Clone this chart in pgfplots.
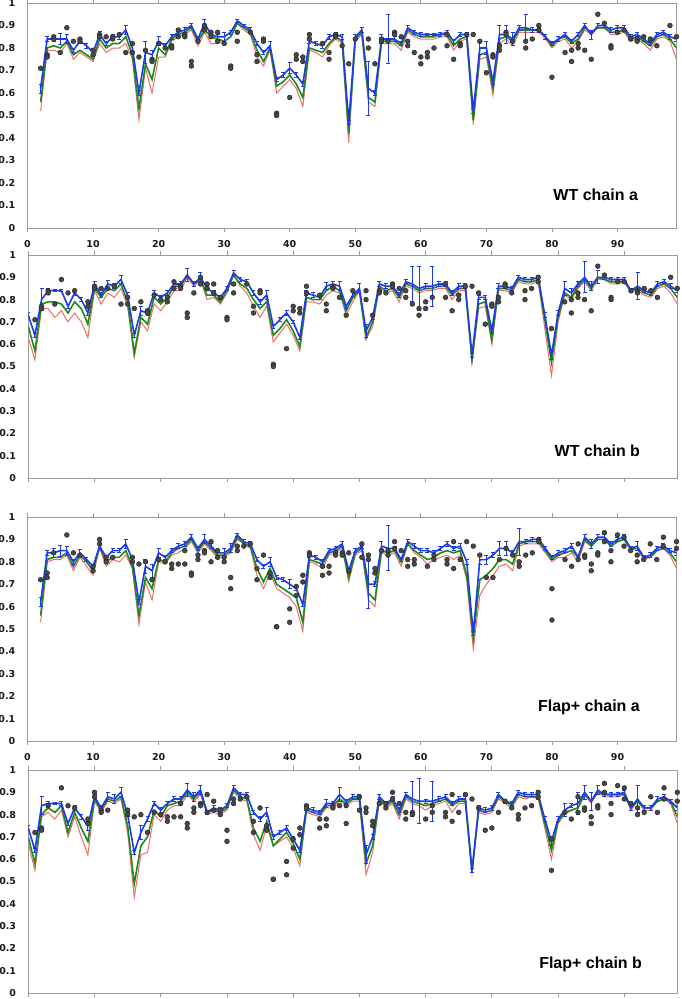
\documentclass[border=0pt]{standalone}
\usepackage{fontspec}
\setmainfont{Liberation Sans}
\newfontfamily\tickfont{DejaVu Sans}
\usepackage{pgfplots}
\usepackage{pgfplotstable}
\pgfplotsset{compat=1.18}
\definecolor{cred}{RGB}{232,112,104}
\definecolor{cgreen}{RGB}{28,138,28}
\definecolor{cblue}{RGB}{30,60,230}
\definecolor{cdot}{RGB}{72,72,72}
\definecolor{cax}{RGB}{155,155,155}

% x red green blue err
\pgfplotstableread{
x r g b e
2 0.52 0.56 0.62 0.02
3 0.79 0.80 0.84 0.01
4 0.79 0.81 0.84 0.01
5 0.78 0.80 0.84 0.025
6 0.82 0.83 0.84 0.02
7 0.75 0.77 0.79 0.01
8 0.78 0.79 0.83 0.01
9 0.76 0.77 0.81 0.01
10 0.74 0.75 0.78 0.01
11 0.82 0.84 0.86 0.015
12 0.78 0.80 0.82 0.01
13 0.80 0.82 0.85 0.01
14 0.80 0.82 0.85 0.01
15 0.82 0.85 0.88 0.02
16 0.75 0.77 0.80 0.01
17 0.48 0.53 0.60 0.01
18 0.71 0.73 0.78 0.05
19 0.60 0.66 0.77 0.02
20 0.76 0.80 0.83 0.02
21 0.76 0.77 0.81 0.01
22 0.83 0.84 0.85 0.01
23 0.85 0.86 0.87 0.01
24 0.86 0.87 0.88 0.01
25 0.88 0.89 0.90 0.01
26 0.81 0.83 0.84 0.01
27 0.87 0.88 0.91 0.015
28 0.82 0.85 0.86 0.01
29 0.82 0.84 0.85 0.01
30 0.83 0.83 0.85 0.02
31 0.85 0.85 0.87 0.01
32 0.91 0.91 0.92 0.005
33 0.88 0.89 0.90 0.005
34 0.86 0.87 0.88 0.01
35 0.76 0.79 0.82 0.01
36 0.72 0.74 0.78 0.01
37 0.79 0.80 0.81 0.02
38 0.60 0.63 0.66 0.01
39 0.63 0.65 0.68 0.01
40 0.66 0.68 0.71 0.025
41 0.62 0.64 0.68 0.01
42 0.54 0.58 0.64 0.01
43 0.79 0.80 0.83 0.01
44 0.78 0.79 0.82 0.01
45 0.76 0.78 0.81 0.01
46 0.81 0.82 0.85 0.01
47 0.84 0.85 0.86 0.01
48 0.82 0.83 0.85 0.01
49 0.38 0.42 0.47 0.01
50 0.83 0.84 0.85 0.01
51 0.86 0.87 0.88 0.01
52 0.56 0.58 0.62 0.12
53 0.54 0.56 0.60 0.01
54 0.82 0.83 0.84 0.02
55 0.82 0.83 0.84 0.11
56 0.82 0.83 0.84 0.01
57 0.79 0.81 0.82 0.01
58 0.87 0.88 0.89 0.01
59 0.85 0.86 0.87 0.01
60 0.84 0.85 0.86 0.01
61 0.84 0.85 0.86 0.005
62 0.84 0.85 0.86 0.005
63 0.85 0.86 0.86 0.01
64 0.85 0.86 0.87 0.01
65 0.79 0.81 0.83 0.01
66 0.83 0.84 0.86 0.01
67 0.84 0.85 0.86 0.01
68 0.46 0.48 0.52 0.01
69 0.75 0.77 0.80 0.03
70 0.76 0.78 0.80 0.03
71 0.59 0.62 0.65 0.01
72 0.82 0.84 0.86 0.04
73 0.84 0.85 0.86 0.04
74 0.81 0.83 0.84 0.03
75 0.87 0.88 0.89 0.01
76 0.87 0.88 0.89 0.06
77 0.87 0.88 0.88 0.01
78 0.87 0.88 0.88 0.01
79 0.84 0.85 0.85 0.01
80 0.80 0.81 0.82 0.01
81 0.83 0.84 0.84 0.01
82 0.84 0.85 0.86 0.01
83 0.80 0.82 0.83 0.01
84 0.83 0.84 0.86 0.01
85 0.88 0.89 0.90 0.01
86 0.86 0.87 0.86 0.02
87 0.89 0.89 0.90 0.01
88 0.89 0.89 0.90 0.01
89 0.86 0.87 0.88 0.01
90 0.86 0.87 0.89 0.01
91 0.87 0.88 0.89 0.01
92 0.83 0.84 0.85 0.01
93 0.84 0.85 0.86 0.01
94 0.82 0.83 0.84 0.01
95 0.79 0.81 0.82 0.01
96 0.84 0.85 0.86 0.01
97 0.85 0.86 0.87 0.01
98 0.83 0.84 0.85 0.01
99 0.75 0.80 0.84 0.01
}\tA

\pgfplotstableread{
x y
2 0.71
3 0.77
3 0.76
4 0.85
4 0.84
5 0.78
6 0.89
7 0.83
8 0.84
8 0.83
10 0.79
10 0.77
11 0.86
11 0.85
12 0.85
13 0.85
13 0.84
14 0.86
15 0.78
16 0.82
16 0.78
17 0.76
18 0.79
19 0.75
19 0.74
20 0.82
21 0.80
22 0.81
22 0.80
23 0.88
23 0.85
24 0.86
24 0.85
25 0.74
25 0.72
26 0.83
27 0.90
27 0.88
28 0.87
28 0.85
29 0.87
29 0.83
30 0.82
31 0.72
31 0.71
32 0.87
32 0.83
34 0.87
35 0.77
35 0.74
36 0.84
36 0.83
38 0.51
38 0.50
40 0.58
41 0.77
41 0.75
42 0.76
42 0.74
43 0.86
43 0.84
45 0.82
46 0.78
46 0.75
47 0.86
47 0.85
48 0.81
49 0.73
50 0.84
52 0.84
52 0.80
53 0.73
54 0.84
54 0.83
55 0.83
56 0.87
56 0.86
57 0.85
58 0.83
58 0.81
59 0.78
60 0.76
60 0.73
61 0.78
61 0.76
62 0.80
64 0.86
64 0.81
65 0.75
66 0.82
66 0.81
67 0.86
68 0.86
69 0.83
70 0.69
71 0.77
71 0.76
72 0.81
72 0.79
73 0.87
73 0.86
74 0.83
76 0.83
76 0.80
77 0.84
78 0.90
78 0.88
80 0.67
82 0.78
83 0.79
83 0.74
84 0.82
84 0.80
85 0.79
86 0.75
87 0.95
88 0.91
89 0.81
89 0.80
90 0.87
91 0.88
92 0.84
93 0.84
93 0.83
94 0.85
95 0.84
96 0.81
98 0.90
99 0.85
}\dA

\pgfplotstableread{
x r g b e
0 0.63 0.68 0.73 0.01
1 0.53 0.57 0.64 0.01
2 0.76 0.78 0.80 0.05
3 0.76 0.79 0.84 0.01
4 0.72 0.79 0.84 0.005
5 0.75 0.78 0.84 0.005
6 0.70 0.74 0.77 0.01
7 0.74 0.79 0.83 0.01
8 0.70 0.76 0.80 0.01
9 0.63 0.69 0.74 0.01
10 0.84 0.85 0.87 0.01
11 0.78 0.81 0.82 0.01
12 0.83 0.85 0.87 0.015
13 0.81 0.84 0.86 0.01
14 0.85 0.87 0.89 0.02
15 0.77 0.79 0.82 0.01
16 0.54 0.56 0.64 0.01
17 0.70 0.72 0.75 0.02
18 0.66 0.69 0.74 0.01
19 0.78 0.81 0.83 0.01
20 0.75 0.78 0.81 0.01
21 0.79 0.81 0.83 0.01
22 0.84 0.86 0.87 0.01
23 0.84 0.86 0.87 0.01
24 0.90 0.91 0.91 0.03
25 0.86 0.87 0.87 0.01
26 0.89 0.89 0.90 0.02
27 0.80 0.82 0.85 0.01
28 0.81 0.82 0.83 0.01
29 0.78 0.79 0.81 0.01
30 0.83 0.84 0.85 0.01
31 0.91 0.91 0.92 0.01
32 0.86 0.87 0.89 0.01
33 0.83 0.85 0.88 0.01
34 0.77 0.80 0.83 0.01
35 0.72 0.76 0.79 0.01
36 0.77 0.79 0.82 0.02
37 0.61 0.64 0.68 0.01
38 0.65 0.67 0.71 0.01
39 0.69 0.71 0.74 0.01
40 0.64 0.66 0.70 0.005
41 0.57 0.59 0.63 0.01
42 0.79 0.81 0.83 0.01
43 0.79 0.80 0.82 0.01
44 0.78 0.80 0.81 0.01
45 0.82 0.84 0.86 0.015
46 0.84 0.86 0.87 0.01
47 0.83 0.84 0.86 0.02
48 0.73 0.75 0.77 0.01
49 0.79 0.81 0.82 0.01
50 0.84 0.84 0.85 0.02
51 0.62 0.63 0.66 0.03
52 0.68 0.70 0.72 0.01
53 0.85 0.86 0.87 0.01
54 0.83 0.84 0.86 0.01
55 0.84 0.85 0.86 0.01
56 0.79 0.81 0.82 0.01
57 0.86 0.87 0.88 0.01
58 0.85 0.86 0.87 0.08
59 0.83 0.84 0.85 0.10
60 0.84 0.85 0.86 0.01
61 0.84 0.85 0.86 0.09
62 0.85 0.86 0.87 0.01
63 0.85 0.86 0.87 0.01
64 0.80 0.82 0.83 0.01
65 0.84 0.85 0.86 0.01
66 0.84 0.85 0.86 0.01
67 0.52 0.53 0.55 0.01
68 0.76 0.78 0.81 0.01
69 0.77 0.79 0.81 0.01
70 0.60 0.62 0.66 0.01
71 0.84 0.85 0.86 0.01
72 0.84 0.85 0.86 0.01
73 0.83 0.84 0.85 0.01
74 0.88 0.89 0.90 0.01
75 0.87 0.88 0.89 0.01
76 0.87 0.88 0.89 0.01
77 0.88 0.89 0.90 0.01
78 0.67 0.71 0.73 0.01
79 0.46 0.52 0.55 0.02
80 0.70 0.72 0.74 0.01
81 0.82 0.83 0.85 0.03
82 0.80 0.81 0.83 0.02
83 0.85 0.86 0.87 0.01
84 0.88 0.89 0.90 0.07
85 0.84 0.85 0.86 0.02
86 0.89 0.90 0.90 0.03
87 0.89 0.89 0.90 0.01
88 0.87 0.88 0.89 0.01
89 0.87 0.88 0.89 0.01
90 0.88 0.88 0.89 0.01
91 0.83 0.84 0.84 0.01
92 0.84 0.85 0.86 0.06
93 0.82 0.83 0.84 0.01
94 0.81 0.82 0.83 0.01
95 0.85 0.86 0.87 0.01
96 0.86 0.87 0.88 0.01
97 0.83 0.85 0.86 0.01
98 0.78 0.81 0.84 0.01
}\tB

\pgfplotstableread{
x y
1 0.71
2 0.77
2 0.76
3 0.84
3 0.83
4 0.78
5 0.89
6 0.83
7 0.84
9 0.79
9 0.77
10 0.86
10 0.85
11 0.85
12 0.85
13 0.86
14 0.78
15 0.81
15 0.78
16 0.76
17 0.79
18 0.75
18 0.74
19 0.82
20 0.80
21 0.81
21 0.79
22 0.88
22 0.85
23 0.86
23 0.85
24 0.74
24 0.72
25 0.83
26 0.90
26 0.87
27 0.87
27 0.85
28 0.87
28 0.83
29 0.81
30 0.72
30 0.71
31 0.87
31 0.83
33 0.87
34 0.77
34 0.74
35 0.84
35 0.83
37 0.51
37 0.50
39 0.58
40 0.77
40 0.75
41 0.76
41 0.74
42 0.86
42 0.83
44 0.82
45 0.78
45 0.75
46 0.86
46 0.85
47 0.81
48 0.73
49 0.84
51 0.84
51 0.80
52 0.73
53 0.84
53 0.83
54 0.83
55 0.87
55 0.86
56 0.85
57 0.84
57 0.81
58 0.78
59 0.76
59 0.73
60 0.79
60 0.76
61 0.81
63 0.87
63 0.81
64 0.75
65 0.82
65 0.80
66 0.86
67 0.86
68 0.83
69 0.69
70 0.78
70 0.77
71 0.81
71 0.79
72 0.87
72 0.86
73 0.83
75 0.84
75 0.80
76 0.85
77 0.90
77 0.88
79 0.67
81 0.79
82 0.80
82 0.74
83 0.83
83 0.81
84 0.80
85 0.75
86 0.95
87 0.91
88 0.81
88 0.80
89 0.88
90 0.88
91 0.84
92 0.84
92 0.83
93 0.85
94 0.84
95 0.81
97 0.90
98 0.85
}\dB

\pgfplotstableread{
x r g b e
2 0.53 0.56 0.62 0.02
3 0.80 0.81 0.84 0.01
4 0.81 0.82 0.84 0.02
5 0.81 0.82 0.85 0.025
6 0.83 0.84 0.85 0.02
7 0.76 0.78 0.80 0.01
8 0.82 0.83 0.84 0.015
9 0.78 0.80 0.81 0.01
10 0.74 0.76 0.78 0.01
11 0.86 0.87 0.87 0.01
12 0.78 0.80 0.82 0.01
13 0.81 0.82 0.85 0.01
14 0.80 0.82 0.85 0.01
15 0.83 0.85 0.88 0.02
16 0.77 0.78 0.81 0.01
17 0.52 0.56 0.62 0.01
18 0.71 0.73 0.78 0.03
19 0.63 0.68 0.76 0.03
20 0.80 0.81 0.84 0.02
21 0.79 0.80 0.82 0.01
22 0.83 0.84 0.85 0.01
23 0.84 0.86 0.87 0.01
24 0.86 0.87 0.88 0.01
25 0.89 0.90 0.91 0.01
26 0.84 0.85 0.86 0.01
27 0.88 0.89 0.90 0.02
28 0.85 0.86 0.87 0.01
29 0.82 0.83 0.84 0.01
30 0.82 0.83 0.84 0.02
31 0.84 0.85 0.86 0.02
32 0.90 0.91 0.92 0.005
33 0.88 0.88 0.89 0.01
34 0.86 0.87 0.88 0.01
35 0.74 0.77 0.81 0.01
36 0.68 0.71 0.78 0.01
37 0.75 0.77 0.80 0.02
38 0.68 0.70 0.73 0.01
39 0.66 0.68 0.72 0.01
40 0.64 0.66 0.70 0.02
41 0.60 0.64 0.68 0.01
42 0.49 0.53 0.61 0.01
43 0.80 0.81 0.83 0.01
44 0.79 0.80 0.82 0.01
45 0.77 0.79 0.80 0.01
46 0.83 0.84 0.85 0.01
47 0.84 0.85 0.86 0.01
48 0.86 0.87 0.88 0.01
49 0.71 0.73 0.76 0.01
50 0.83 0.84 0.85 0.01
51 0.85 0.86 0.87 0.01
52 0.63 0.66 0.70 0.11
53 0.60 0.63 0.70 0.01
54 0.84 0.85 0.87 0.02
55 0.83 0.84 0.86 0.10
56 0.84 0.85 0.86 0.01
57 0.78 0.80 0.81 0.01
58 0.88 0.88 0.89 0.01
59 0.84 0.85 0.87 0.01
60 0.82 0.83 0.85 0.01
61 0.79 0.81 0.85 0.01
62 0.81 0.82 0.84 0.01
63 0.82 0.84 0.86 0.01
64 0.83 0.85 0.88 0.01
65 0.81 0.84 0.86 0.01
66 0.83 0.85 0.87 0.01
67 0.72 0.74 0.80 0.01
68 0.41 0.46 0.48 0.01
69 0.65 0.72 0.81 0.02
70 0.70 0.74 0.81 0.02
71 0.74 0.77 0.83 0.01
72 0.78 0.81 0.86 0.03
73 0.79 0.81 0.86 0.03
74 0.76 0.79 0.84 0.01
75 0.87 0.88 0.89 0.06
76 0.88 0.89 0.89 0.01
77 0.88 0.89 0.90 0.01
78 0.88 0.89 0.90 0.01
79 0.84 0.85 0.86 0.01
80 0.80 0.81 0.82 0.01
81 0.82 0.83 0.84 0.01
82 0.82 0.84 0.85 0.01
83 0.84 0.85 0.87 0.01
84 0.80 0.82 0.82 0.01
85 0.89 0.90 0.91 0.01
86 0.87 0.87 0.88 0.02
87 0.90 0.90 0.91 0.01
88 0.90 0.90 0.91 0.01
89 0.87 0.87 0.88 0.01
90 0.89 0.89 0.90 0.01
91 0.90 0.90 0.91 0.01
92 0.85 0.86 0.86 0.01
93 0.86 0.86 0.87 0.02
94 0.81 0.82 0.82 0.01
95 0.82 0.82 0.83 0.01
96 0.85 0.85 0.86 0.01
97 0.86 0.86 0.87 0.01
98 0.83 0.84 0.85 0.01
99 0.77 0.80 0.84 0.01
}\tC

\pgfplotstableread{
x y
2 0.72
3 0.75
3 0.73
4 0.84
6 0.92
7 0.84
8 0.83
10 0.78
10 0.76
11 0.90
11 0.88
12 0.82
12 0.80
13 0.82
16 0.82
16 0.80
17 0.79
18 0.80
19 0.72
20 0.81
21 0.80
22 0.79
22 0.77
23 0.79
24 0.85
24 0.79
25 0.75
25 0.74
26 0.83
26 0.81
27 0.85
27 0.84
28 0.89
28 0.80
29 0.85
29 0.82
30 0.82
30 0.80
31 0.73
31 0.68
32 0.87
32 0.85
33 0.87
34 0.88
35 0.77
35 0.72
36 0.83
37 0.75
37 0.73
38 0.51
38 0.51
40 0.59
40 0.53
41 0.69
41 0.65
42 0.74
42 0.71
43 0.84
43 0.83
45 0.78
45 0.74
46 0.78
46 0.75
47 0.84
47 0.83
48 0.84
48 0.83
49 0.84
49 0.76
51 0.88
51 0.82
52 0.83
52 0.81
53 0.77
53 0.75
54 0.85
55 0.85
55 0.83
56 0.89
56 0.86
57 0.85
58 0.81
58 0.78
59 0.81
59 0.79
61 0.78
62 0.83
62 0.81
64 0.81
64 0.79
65 0.89
65 0.77
66 0.81
67 0.89
68 0.87
69 0.83
70 0.73
71 0.73
72 0.81
73 0.86
74 0.83
75 0.80
75 0.78
76 0.83
77 0.84
78 0.90
78 0.89
80 0.68
80 0.54
82 0.81
83 0.78
84 0.88
84 0.81
85 0.83
85 0.82
86 0.79
86 0.76
87 0.84
87 0.83
88 0.93
88 0.89
89 0.85
89 0.80
90 0.92
91 0.91
91 0.87
92 0.85
93 0.83
93 0.80
94 0.81
95 0.88
96 0.81
97 0.91
97 0.87
99 0.89
99 0.86
}\dC

\pgfplotstableread{
x r g b e
0 0.67 0.70 0.74 0.01
1 0.55 0.58 0.64 0.01
2 0.79 0.80 0.84 0.04
3 0.81 0.83 0.85 0.01
4 0.78 0.81 0.85 0.005
5 0.82 0.84 0.85 0.01
6 0.70 0.72 0.76 0.01
7 0.79 0.81 0.83 0.01
8 0.70 0.74 0.79 0.01
9 0.62 0.68 0.75 0.02
10 0.86 0.87 0.88 0.01
11 0.81 0.82 0.83 0.01
12 0.86 0.87 0.88 0.02
13 0.85 0.86 0.87 0.02
14 0.87 0.88 0.90 0.02
15 0.72 0.75 0.80 0.01
16 0.43 0.49 0.63 0.01
17 0.62 0.66 0.72 0.03
18 0.63 0.70 0.78 0.01
19 0.80 0.82 0.85 0.01
20 0.77 0.79 0.82 0.01
21 0.82 0.84 0.85 0.01
22 0.84 0.85 0.87 0.01
23 0.84 0.86 0.87 0.01
24 0.89 0.90 0.91 0.03
25 0.86 0.87 0.88 0.02
26 0.89 0.90 0.91 0.02
27 0.80 0.81 0.81 0.01
28 0.81 0.82 0.83 0.01
29 0.80 0.81 0.82 0.01
30 0.82 0.83 0.84 0.01
31 0.90 0.91 0.92 0.01
32 0.87 0.88 0.89 0.01
33 0.86 0.87 0.89 0.01
34 0.71 0.74 0.81 0.01
35 0.64 0.68 0.78 0.01
36 0.75 0.77 0.81 0.02
37 0.66 0.66 0.70 0.01
38 0.68 0.69 0.72 0.01
39 0.70 0.72 0.74 0.01
40 0.65 0.67 0.69 0.01
41 0.57 0.60 0.64 0.01
42 0.81 0.82 0.83 0.01
43 0.80 0.81 0.82 0.01
44 0.79 0.80 0.81 0.01
45 0.83 0.84 0.85 0.02
46 0.83 0.84 0.85 0.01
47 0.86 0.87 0.89 0.03
48 0.84 0.85 0.86 0.01
49 0.86 0.87 0.88 0.01
50 0.86 0.87 0.88 0.01
51 0.53 0.58 0.62 0.04
52 0.63 0.66 0.70 0.01
53 0.86 0.87 0.88 0.01
54 0.83 0.84 0.85 0.01
55 0.85 0.86 0.87 0.01
56 0.78 0.80 0.82 0.01
57 0.87 0.88 0.89 0.01
58 0.85 0.86 0.87 0.08
59 0.84 0.85 0.86 0.10
60 0.82 0.84 0.86 0.01
61 0.84 0.85 0.86 0.09
62 0.85 0.86 0.87 0.01
63 0.86 0.87 0.88 0.01
64 0.81 0.84 0.85 0.01
65 0.85 0.86 0.87 0.01
66 0.85 0.86 0.87 0.01
67 0.54 0.54 0.55 0.01
68 0.81 0.82 0.83 0.01
69 0.80 0.81 0.82 0.01
70 0.81 0.82 0.83 0.01
71 0.87 0.88 0.89 0.01
72 0.85 0.86 0.86 0.01
73 0.83 0.84 0.85 0.01
74 0.88 0.89 0.90 0.01
75 0.87 0.88 0.89 0.01
76 0.88 0.88 0.89 0.01
77 0.87 0.88 0.89 0.02
78 0.74 0.76 0.78 0.01
79 0.60 0.64 0.68 0.02
80 0.76 0.77 0.78 0.01
81 0.80 0.81 0.82 0.03
82 0.82 0.82 0.84 0.01
83 0.83 0.83 0.85 0.05
84 0.89 0.89 0.90 0.03
85 0.85 0.86 0.86 0.04
86 0.90 0.90 0.91 0.02
87 0.88 0.89 0.89 0.01
88 0.88 0.89 0.89 0.01
89 0.88 0.89 0.89 0.01
90 0.89 0.89 0.90 0.01
91 0.82 0.83 0.83 0.01
92 0.86 0.86 0.87 0.06
93 0.82 0.83 0.83 0.01
94 0.82 0.83 0.83 0.01
95 0.86 0.86 0.87 0.01
96 0.87 0.87 0.88 0.01
97 0.85 0.86 0.86 0.01
98 0.76 0.79 0.83 0.01
}\tD

\pgfplotstableread{
x y
1 0.72
2 0.74
2 0.73
3 0.84
5 0.92
6 0.84
7 0.83
9 0.78
9 0.76
10 0.90
10 0.88
11 0.82
11 0.81
12 0.82
15 0.82
15 0.80
16 0.79
17 0.80
18 0.72
19 0.81
20 0.80
21 0.79
21 0.77
22 0.79
23 0.85
23 0.79
24 0.76
24 0.74
25 0.83
25 0.81
26 0.85
26 0.84
27 0.89
27 0.81
28 0.86
28 0.82
29 0.82
29 0.80
30 0.73
30 0.68
31 0.87
31 0.85
32 0.87
33 0.88
34 0.77
34 0.72
35 0.83
36 0.75
36 0.73
37 0.51
37 0.51
39 0.59
39 0.53
40 0.69
40 0.65
41 0.74
41 0.71
42 0.84
42 0.83
44 0.78
44 0.74
45 0.78
45 0.75
46 0.84
46 0.83
47 0.84
48 0.84
48 0.76
50 0.88
50 0.82
51 0.83
51 0.81
52 0.77
52 0.75
53 0.85
54 0.85
54 0.83
55 0.90
55 0.87
56 0.85
57 0.81
57 0.78
58 0.81
58 0.80
60 0.78
61 0.84
61 0.81
63 0.81
63 0.79
64 0.89
64 0.77
65 0.81
66 0.89
67 0.87
68 0.83
69 0.73
70 0.74
71 0.81
72 0.86
73 0.83
74 0.80
74 0.78
75 0.83
76 0.84
77 0.90
77 0.88
79 0.69
79 0.55
81 0.81
82 0.78
83 0.88
83 0.81
84 0.83
84 0.82
85 0.79
85 0.76
86 0.84
86 0.83
87 0.94
87 0.90
88 0.85
88 0.80
89 0.93
90 0.92
90 0.87
91 0.85
92 0.83
92 0.80
93 0.81
94 0.88
95 0.81
96 0.92
96 0.87
98 0.90
98 0.86
}\dD

\pgfplotsset{
  panel/.style={
    scale only axis, width=649pt,
    ymin=0, ymax=1, xmin=0,
    ytick={0,0.1,0.2,0.3,0.4,0.5,0.6,0.7,0.8,0.9,1},
    xtick={0,10,20,30,40,50,60,70,80,90},
    /pgf/number format/assume math mode=true,
    /pgf/number format/fixed,
    /pgf/number format/precision=1,
    yticklabel={\pgfmathprintnumber{\tick}},
    axis line style={cax, line width=1pt},
    tick align=outside, major tick length=4pt,
    xtick style={cax, line width=0.8pt},
    ytick style={draw=none},
    ticklabel style={font=\tickfont\bfseries\fontsize{9.5}{11}\selectfont, text=black!90},
    yticklabel style={anchor=east, inner sep=0pt, xshift=-8pt},
    xticklabel style={yshift=-5pt},
    clip=true,
  },
  withx/.style={xticklabel={\pgfmathprintnumber{\tick}}},
  nox/.style={xticklabel={\phantom{0}}},
  redl/.style={cred, line width=1pt, no marks},
  greenl/.style={cgreen, line width=1.6pt, no marks},
  bluel/.style={cblue, line width=1.6pt, no marks,
    error bars/.cd, y dir=both, y explicit,
    error bar style={cblue, line width=1pt},
    error mark options={cblue, line width=1pt, mark size=2pt, rotate=90}},
  dots/.style={only marks, mark=*, mark size=2.4pt,
    mark options={fill=cdot, draw=black!85, line width=0.5pt}},
}
\tikzset{lab/.style={anchor=east, font=\bfseries\fontsize{16}{19}\selectfont}}

\begin{document}
\begin{tikzpicture}
\useasboundingbox (0,0) rectangle (681pt,-999pt);

\begin{axis}[panel, withx, at={(27.5pt,-228pt)}, anchor=south west, height=225pt, xmax=99]
\addplot[redl] table[x=x,y=r] {\tA};
\addplot[greenl] table[x=x,y=g] {\tA};
\addplot[bluel] table[x=x,y=b,y error=e] {\tA};
\addplot[dots] table[x=x,y=y] {\dA};
\node[lab] at (rel axis cs:0.946,0.147) {WT chain a};
\end{axis}

\begin{axis}[panel, nox, at={(28.3pt,-478pt)}, anchor=south west, height=223pt, xmax=98]
\addplot[redl] table[x=x,y=r] {\tB};
\addplot[greenl] table[x=x,y=g] {\tB};
\addplot[bluel] table[x=x,y=b,y error=e] {\tB};
\addplot[dots] table[x=x,y=y] {\dB};
\node[lab] at (rel axis cs:0.948,0.121) {WT chain b};
\end{axis}

\begin{axis}[panel, withx, at={(27.5pt,-741pt)}, anchor=south west, height=224pt, xmax=99]
\addplot[redl] table[x=x,y=r] {\tC};
\addplot[greenl] table[x=x,y=g] {\tC};
\addplot[bluel] table[x=x,y=b,y error=e] {\tC};
\addplot[dots] table[x=x,y=y] {\dC};
\node[lab] at (rel axis cs:0.949,0.152) {Flap+ chain a};
\end{axis}

\begin{axis}[panel, nox, at={(28.3pt,-993pt)}, anchor=south west, height=223pt, xmax=98]
\addplot[redl] table[x=x,y=r] {\tD};
\addplot[greenl] table[x=x,y=g] {\tD};
\addplot[bluel] table[x=x,y=b,y error=e] {\tD};
\addplot[dots] table[x=x,y=y] {\dD};
\node[lab] at (rel axis cs:0.951,0.13) {Flap+ chain b};
\end{axis}
\end{tikzpicture}
\end{document}
